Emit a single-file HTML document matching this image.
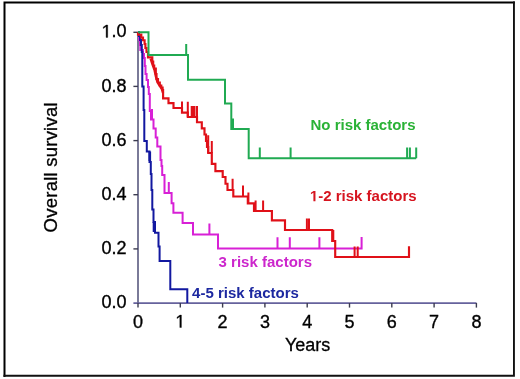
<!DOCTYPE html>
<html><head><meta charset="utf-8"><style>
html,body{margin:0;padding:0;background:#fff;}
body{width:520px;height:379px;overflow:hidden;}
svg{display:block;filter:blur(0.45px);}
text{font-family:"Liberation Sans",sans-serif;}
</style></head><body>
<svg width="520" height="379" viewBox="0 0 520 379">
<rect x="0" y="0" width="520" height="379" fill="#fff"/>
<!-- frame -->
<path d="M4.5,376.9 V2.5 H514.9" fill="none" stroke="#000" stroke-width="2"/>
<path d="M3.5,375.7 H513.95 V1.5" fill="none" stroke="#111" stroke-width="1.9"/>

<!-- axes -->
<line x1="138" y1="32.3" x2="138" y2="303" stroke="#7a7a98" stroke-width="2"/>
<line x1="133.4" y1="303.1" x2="476.5" y2="303.1" stroke="#66629c" stroke-width="1.9"/>
<g stroke="#3c3c50" stroke-width="1.4">
<line x1="133.4" y1="32.3" x2="138" y2="32.3"/>
<line x1="133.4" y1="86.4" x2="138" y2="86.4"/>
<line x1="133.4" y1="140.6" x2="138" y2="140.6"/>
<line x1="133.4" y1="194.7" x2="138" y2="194.7"/>
<line x1="133.4" y1="248.9" x2="138" y2="248.9"/>
<line x1="138" y1="303" x2="138" y2="307.6"/>
<line x1="180.3" y1="303" x2="180.3" y2="307.6"/>
<line x1="222.6" y1="303" x2="222.6" y2="307.6"/>
<line x1="264.9" y1="303" x2="264.9" y2="307.6"/>
<line x1="307.2" y1="303" x2="307.2" y2="307.6"/>
<line x1="349.5" y1="303" x2="349.5" y2="307.6"/>
<line x1="391.8" y1="303" x2="391.8" y2="307.6"/>
<line x1="434.1" y1="303" x2="434.1" y2="307.6"/>
<line x1="476.4" y1="303" x2="476.4" y2="307.6"/>
</g>

<!-- tick labels -->
<g font-size="18" fill="#000" stroke="#000" stroke-width="0.35" text-anchor="end">
<text x="111.59" y="37.4" text-anchor="start">.0</text>
<path transform="translate(101.58,37.4) scale(0.008789,-0.008789)" stroke-width="40" d="M515 0V1237L197 1010V1180L530 1409H696V0Z"/>
<text x="126.6" y="91.5">0.8</text>
<text x="126.6" y="145.7">0.6</text>
<text x="126.6" y="199.8">0.4</text>
<text x="126.6" y="254">0.2</text>
<text x="126.6" y="308.1">0.0</text>
</g>
<g font-size="18" fill="#000" stroke="#000" stroke-width="0.35" text-anchor="middle">
<text x="138" y="327.5">0</text>
<path transform="translate(175.29,327.5) scale(0.008789,-0.008789)" stroke-width="40" d="M515 0V1237L197 1010V1180L530 1409H696V0Z"/>
<text x="222.6" y="327.5">2</text>
<text x="264.9" y="327.5">3</text>
<text x="307.2" y="327.5">4</text>
<text x="349.5" y="327.5">5</text>
<text x="391.8" y="327.5">6</text>
<text x="434.1" y="327.5">7</text>
<text x="476.4" y="327.5">8</text>
</g>
<text x="307.6" y="350.6" font-size="18" text-anchor="middle" fill="#000" stroke="#000" stroke-width="0.3">Years</text>
<text transform="translate(57,167.4) rotate(-90)" font-size="18.5" text-anchor="middle" fill="#000" stroke="#000" stroke-width="0.3" textLength="130" lengthAdjust="spacing">Overall survival</text>

<!-- curves -->
<g fill="none" stroke-width="2" stroke-linejoin="miter" stroke-linecap="butt">
<!-- magenta: 3 risk factors -->
<path stroke="#d820d6" d="M138,32.3 H139 V40 H140 V45 H140.3 V50 H143 V54 H144 V58 H144.8 V66 H145.5 V74 H146.6 V80 H148 V87 H148.8 V94 H149.8 V111 H151 V119.5 H153.5 V128.5 H155.7 V137.5 H157.3 V146.5 H160.5 V160 H161.5 V166 H162.2 V175 H164.5 V193 H171.6 V203.2 H173.4 V212.8 H182.6 V223 H193 V234.6 H218 V248.6 H361.6 V237"/>
<path stroke="#d820d6" d="M152,119.5 V109 M168.8,193 V182 M209.4,234.6 V223.6 M277.5,248.6 V237.2 M289.8,248.6 V237.2 M319.4,248.6 V237.2"/>

<!-- blue: 4-5 risk factors -->
<path stroke="#1218a0" d="M138,32.3 H139 V36 H140 V40 H141 V45 H141.8 V52 H142.3 V86.5 H143.6 V110 H144.3 V141 H146.8 V151.5 H149.5 V162 H150.8 V174 H151.5 V190 H152.3 V209.5 H153.5 V222 H155 V232.7 H158.5 V246.5 H159.6 V261 H170.3 V289.3 H187.3 V303"/>
<path stroke="#1218a0" stroke-width="2.6" d="M149.8,151.5 V161 M154,222 V232"/>

<!-- red: 1-2 risk factors -->
<path stroke="#e01018" stroke-width="2.15" d="M138,32.3 V34.6 H141.3 V37.6 H143 V40.2 H144.6 V44 H145.4 V48 H146.5 V52 H148 V57.3 H152.3 V61.5 H153.2 V65.5 H154.2 V68.5 H155.8 V74 H156.5 V79 H158 V82.5 H159.8 V85.5 H161.3 V87.5 H162.6 V90 H163.1 V98.3 H168.5 V103.1 H173.5 V108 H182 V112.6 H187.8 V117 H197 V122.2 H201.8 V128.3 H204.5 V134.5 H206 V141 H207 V147 H208.2 V153 H211.8 V163.8 H215.4 V171.1 H222.7 V177 H225.5 V183.7 H227.5 V190 H233.3 V196.5 H247.8 V203.4 H254 V211 H271.9 V220.3 H285 V230 H332.2 V241 H335.2 V257 H409 V246.3"/>
<path stroke="#e01018" stroke-width="2.4" d="M150.6,58.6 L152.4,64 L154.5,69.8 L155.9,76.5 L157.4,82 L159.6,85.5 L161.8,88.8 L163,93"/>
<path stroke="#e01018" d="M182,112.6 V101.4 M187.8,117 V101.8 M191.7,117 V106 M193.1,117 V106 M194.5,117 V106 M197,117 V106 M208.2,153 V135.2 M211.8,153 V141 M232.6,190 V178.7 M243,196.5 V185.6 M248.4,203.4 V192.6 M255.6,211 V200.4 M263.1,211 V200.4 M306.9,230 V218.4 M309,230 V218.4 M333.3,230 V240 M354.6,257 V246.6 M357.7,257 V246.6"/>


<!-- green: no risk factors -->
<path stroke="#20aa52" d="M138,32.3 H148.5 V55 H188 V79.8 H225 V103.6 H231.3 V129 H248.7 V158.2 H416.2"/>
<path stroke="#20aa52" d="M186.2,55 V44 M233,129 V118.5 M259.8,158.2 V147.5 M290.6,158.2 V147.5 M407.1,158.2 V147.5 M409.9,158.2 V147.5 M416.2,158.2 V147.5"/>

</g>

<!-- legend labels -->
<g font-size="15" font-weight="bold">
<text x="310.5" y="130" fill="#2ab236">No risk factors</text>
<text x="318.24" y="201.3" fill="#d6141f">-2 risk factors</text>
<path transform="translate(309.9,201.3) scale(0.007324,-0.007324)" fill="#d6141f" d="M478 0V1170L140 959V1180L493 1409H759V0Z"/>
<text x="218.6" y="266.8" fill="#cc26cc">3 risk factors</text>
<text x="192.1" y="297.5" fill="#1c28a0">4-5 risk factors</text>
</g>
</svg>
</body></html>
